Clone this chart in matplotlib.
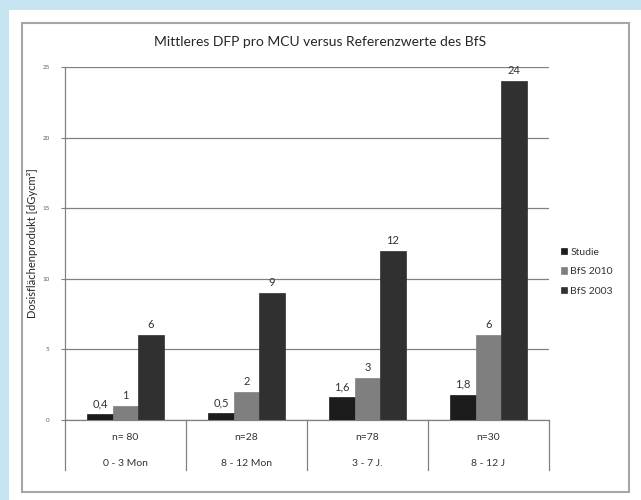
import matplotlib
matplotlib.use("Agg")
import matplotlib.pyplot as plt
from matplotlib.patches import Rectangle
import numpy as np

title = "Mittleres DFP pro MCU versus Referenzwerte des BfS"
ylabel = "Dosisflächenprodukt [dGycm²]"
n_labels = ["n= 80", "n=28", "n=78", "n=30"]
categories = ["0 - 3 Mon", "8 - 12 Mon", "3 - 7 J.", "8 - 12 J"]
series_names = ["Studie", "BfS 2010", "BfS 2003"]
studie = [0.4, 0.5, 1.6, 1.8]
bfs2010 = [1, 2, 3, 6]
bfs2003 = [6, 9, 12, 24]
value_labels = [["0,4", "0,5", "1,6", "1,8"], ["1", "2", "3", "6"], ["6", "9", "12", "24"]]
yticks = [0, 5, 10, 15, 20, 25]
colors = ["#1c1c1c", "#7f7f7f", "#303030"]

W, H = 641, 500
fig = plt.figure(figsize=(W / 100, H / 100), dpi=100)
fig.patch.set_facecolor("white")
font = "Lato"
plt.rcParams["font.family"] = [font, "DejaVu Sans"]

# frame: light blue on top/left, gray inner border
fig.patches.append(Rectangle((0, 0), 1, 1, transform=fig.transFigure, facecolor="#c6e3f1", edgecolor="none", zorder=-3))
fig.patches.append(Rectangle((9 / W, 0), 1 - 9 / W, 1 - 10 / H, transform=fig.transFigure, facecolor="white", edgecolor="none", zorder=-2))
fig.patches.append(Rectangle((22 / W, 1 - 492 / H), (629 - 22) / W, (492 - 23) / H, transform=fig.transFigure,
                             facecolor="white", edgecolor="#a6a6a6", linewidth=1.5, zorder=-1))

x0, x1, ytop, ybot = 65, 549, 67, 420
ax = fig.add_axes([x0 / W, 1 - ybot / H, (x1 - x0) / W, (ybot - ytop) / H])
ax.set_facecolor("none")

x = np.arange(len(categories))
bw = 0.21
data = [studie, bfs2010, bfs2003]
for i, (vals, c, name) in enumerate(zip(data, colors, series_names)):
    pos = x + (i - 1) * bw
    ax.bar(pos, vals, width=bw, color=c, edgecolor=c, linewidth=0.5, label=name, zorder=3)
    for p, v, lab in zip(pos, vals, value_labels[i]):
        ax.text(p, v + 0.35, lab, ha="center", va="bottom", fontsize=8, color="#333333", zorder=4)

ax.set_xlim(-0.5, len(categories) - 0.5)
ax.set_ylim(0, 25)
ax.set_yticks(yticks)
ax.set_yticklabels([str(t) for t in yticks], fontsize=4.5, color="#606060")
ax.tick_params(axis="y", length=3, width=0.8, color="#808080", pad=8)
ax.set_xticks([])
ax.yaxis.grid(True, color="#808080", linewidth=0.9, zorder=0)
for s in ["top", "right"]:
    ax.spines[s].set_visible(False)
ax.spines["left"].set_color("#808080")
ax.spines["bottom"].set_color("#808080")
ax.spines["left"].set_linewidth(0.9)
ax.spines["bottom"].set_linewidth(0.9)
ax.set_ylabel(ylabel, fontsize=8, color="#262626", labelpad=3)

# category table below axis
trans = ax.get_xaxis_transform()
for b in np.arange(-0.5, len(categories) + 0.5, 1.0):
    ax.plot([b, b], [0, -50 / (ybot - ytop)], transform=trans, color="#808080", linewidth=0.9, clip_on=False)
for xi, nl, cl in zip(x, n_labels, categories):
    ax.text(xi, -17 / (ybot - ytop), nl, transform=trans, ha="center", va="center", fontsize=7.5, color="#333333")
    ax.text(xi, -43 / (ybot - ytop), cl, transform=trans, ha="center", va="center", fontsize=7.5, color="#333333")

fig.text((x0 + x1) / 2 / W + 0.02, 1 - 42 / H, title, ha="center", va="center", fontsize=10, color="#262626")

leg = ax.legend(loc="center left", bbox_to_anchor=(1.005, 0.42), frameon=False, fontsize=7.5,
                handlelength=0.6, handleheight=0.6, handletextpad=0.3, labelspacing=1.0)
for t in leg.get_texts():
    t.set_color("#333333")

fig.savefig("out.png", dpi=100)
